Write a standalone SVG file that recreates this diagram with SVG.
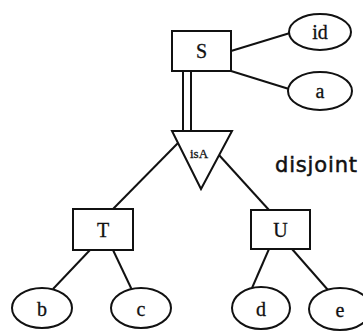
<svg xmlns="http://www.w3.org/2000/svg" width="363" height="331" viewBox="0 0 363 331">
<style>
.n{fill:#fff;stroke:#111;stroke-width:2}
.c{stroke:#111;stroke-width:2;fill:none}
.t{font-family:"Liberation Serif",serif;font-size:20px;fill:#111;text-anchor:middle;stroke:#111;stroke-width:0.3}
</style>
<rect width="363" height="331" fill="#fff"/>
<g id="connectors">
<line class="c" x1="231" y1="51" x2="290" y2="33"/>
<line class="c" x1="231" y1="71" x2="289" y2="89"/>
<line class="c" x1="183" y1="71" x2="183" y2="131"/>
<line class="c" x1="191" y1="71" x2="191" y2="131"/>
<line class="c" x1="178" y1="143" x2="113" y2="209"/>
<line class="c" x1="219" y1="155" x2="269" y2="210"/>
<line class="c" x1="90" y1="250" x2="53" y2="289"/>
<line class="c" x1="113" y1="250" x2="132" y2="290"/>
<line class="c" x1="269" y1="249" x2="252" y2="288"/>
<line class="c" x1="292" y1="249" x2="328" y2="290"/>
</g>
<g id="S"><rect class="n" x="172" y="31" width="59" height="40"/><text class="t" x="201.5" y="58">S</text></g>
<g id="id"><ellipse class="n" cx="320" cy="32" rx="31" ry="18"/><text class="t" x="320" y="39">id</text></g>
<g id="a"><ellipse class="n" cx="320" cy="91" rx="32" ry="19"/><text class="t" x="320" y="98">a</text></g>
<g id="isa"><polygon class="n" points="172,131 232,131 201,189"/><text x="199" y="158" font-family="Liberation Serif,serif" font-size="13" fill="#111" stroke="#111" stroke-width="0.3" text-anchor="middle">isA</text></g>
<g id="disjoint"><text x="275" y="172" font-family="DejaVu Sans,sans-serif" font-size="21" fill="#111" stroke="#111" stroke-width="0.5" textLength="82">disjoint</text></g>
<g id="T"><rect class="n" x="73" y="209" width="60" height="41"/><text class="t" x="103" y="237">T</text></g>
<g id="U"><rect class="n" x="251" y="210" width="59" height="39"/><text class="t" x="280.5" y="237">U</text></g>
<g id="b"><ellipse class="n" cx="42" cy="308" rx="30" ry="20"/><text class="t" x="42" y="316">b</text></g>
<g id="c"><ellipse class="n" cx="141" cy="308" rx="30" ry="20"/><text class="t" x="141" y="316">c</text></g>
<g id="d"><ellipse class="n" cx="261" cy="308" rx="29" ry="21"/><text class="t" x="261" y="316">d</text></g>
<g id="e"><ellipse class="n" cx="340" cy="309" rx="31" ry="21"/><text class="t" x="340" y="317">e</text></g>
</svg>
